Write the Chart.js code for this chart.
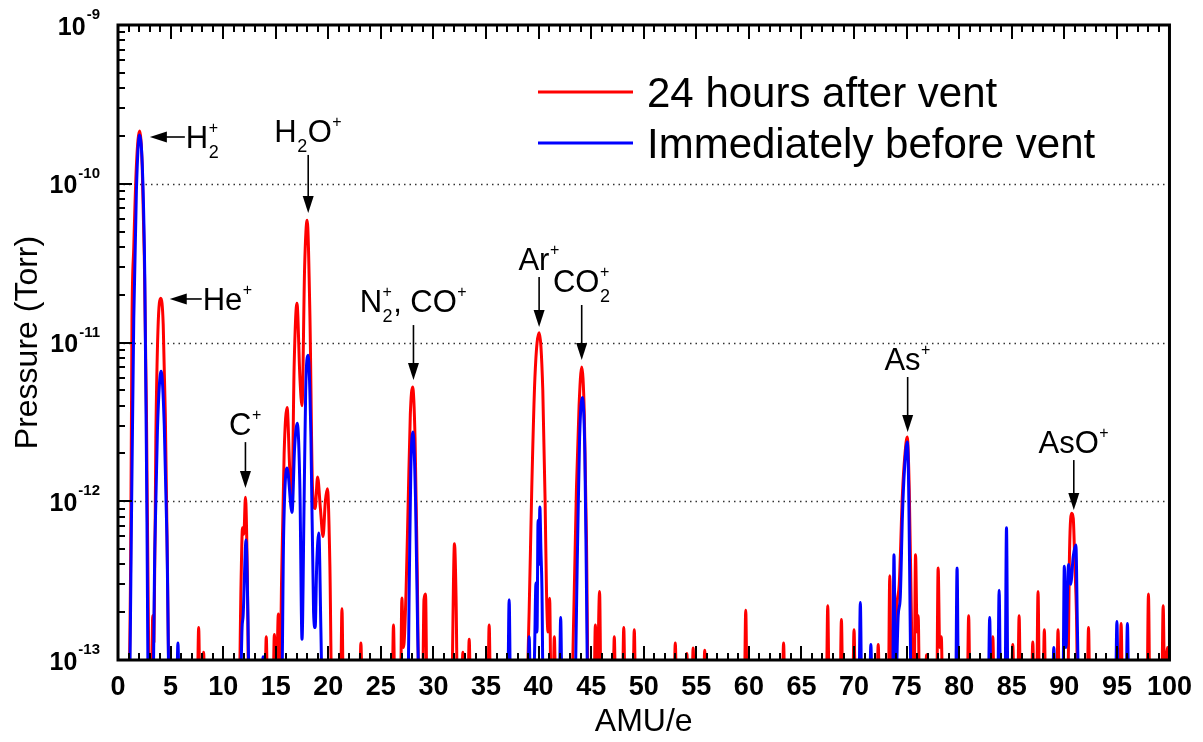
<!DOCTYPE html>
<html>
<head>
<meta charset="utf-8">
<script src="https://cdn.jsdelivr.net/npm/chart.js@4.4.1/dist/chart.umd.min.js"></script>
<style>
html,body{margin:0;padding:0;background:#fff;}
canvas{display:block;}
</style>
</head>
<body>
<canvas id="c" width="1203" height="742"></canvas>
<script>
// ---------------- DATA ----------------
const seriesNames = ['24 hours after vent', 'Immediately before vent'];
const xTitle = 'AMU/e';
const yTitle = 'Pressure (Torr)';
const xRange = [0, 100];
const xTickStep = 5;
const yTickExponents = [-9, -10, -11, -12, -13];

// [AMU/e, pressure in Torr]; 5e-14 = below the bottom of the axis
const redScan = [
[0,5e-14],[0.95,5e-14],[1.2,4e-13],[1.33,1.35e-11],[1.5,4e-11],[1.75,1.3e-10],[2.05,2.15e-10],[2.3,1.3e-10],[2.5,3.5e-11],[2.7,4e-12],[2.9,1.5e-13],[3.02,5e-14],
[3.18,5e-14],[3.3,1.9e-13],[3.42,1.3e-13],[3.6,2.5e-12],[3.8,1.2e-11],[4.07,1.9e-11],[4.3,1.3e-11],[4.5,3.5e-12],[4.7,4e-13],[4.9,5e-14],
[7.52,5e-14],[7.67,1.6e-13],[7.82,5e-14],[7.99,5e-14],[8.14,1.12e-13],[8.29,5e-14],
[11.5,5e-14],[11.7,3e-13],[11.84,6.8e-13],[11.97,6.2e-13],[12.12,1.06e-12],[12.3,3.5e-13],[12.45,5e-14],
[13.95,5e-14],[14.1,1.4e-13],[14.25,5e-14],[14.72,5e-14],[14.87,1.45e-13],[15.05,6e-14],[15.25,1.95e-13],[15.4,6e-14],
[15.55,3e-13],[15.8,2e-12],[16.08,3.9e-12],[16.35,1.5e-12],[16.55,1.1e-12],[16.75,7e-12],[17.02,1.77e-11],[17.3,6e-12],[17.5,4e-12],[17.75,3e-11],[17.99,5.9e-11],[18.25,1.5e-11],[18.5,1.2e-12],[18.75,9e-13],[18.98,1.42e-12],[19.25,9e-13],[19.5,6e-13],[19.72,1e-12],[19.92,1.2e-12],[20.15,4e-13],[20.35,5e-14],
[21.15,5e-14],[21.3,2.1e-13],[21.45,5e-14],
[22.95,5e-14],[23.1,1.28e-13],[23.25,5e-14],
[26.05,5e-14],[26.2,1.66e-13],[26.35,5e-14],
[26.85,5e-14],[27.0,2.46e-13],[27.15,1.2e-13],[27.4,2.75e-13],[27.6,1e-12],[27.8,3.5e-12],[28.02,5.25e-12],[28.25,2.5e-12],[28.45,4e-13],[28.65,5e-14],
[28.95,5e-14],[29.1,2.4e-13],[29.25,2.6e-13],[29.4,5e-14],
[31.7,5e-14],[32.0,5.4e-13],[32.15,2.5e-13],[32.3,5e-14],
[32.65,5e-14],[32.8,1.12e-13],[32.95,5e-14],
[33.25,5e-14],[33.4,1.35e-13],[33.55,5e-14],
[35.15,5e-14],[35.3,1.66e-13],[35.45,5e-14],
[38.8,5e-14],[39.1,2e-13],[39.35,1.2e-12],[39.65,6e-12],[40.05,1.15e-11],[40.4,5e-12],[40.62,1e-12],[40.75,2.75e-13],[40.9,1.5e-13],[41.05,2.45e-13],[41.2,5e-14],
[41.35,5e-14],[41.5,1.4e-13],[41.65,5e-14],
[43.1,5e-14],[43.35,2e-13],[43.6,1.2e-12],[43.85,4e-12],[44.1,7e-12],[44.35,3.5e-12],[44.55,6e-13],[44.75,5e-14],
[45.25,5e-14],[45.4,1.66e-13],[45.55,6e-14],[45.8,2.7e-13],[45.95,5e-14],
[47.05,5e-14],[47.2,1.4e-13],[47.35,5e-14],
[47.95,5e-14],[48.1,1.6e-13],[48.25,5e-14],
[48.95,5e-14],[49.1,1.55e-13],[49.25,5e-14],
[52.85,5e-14],[53.0,1.28e-13],[53.15,5e-14],
[53.95,5e-14],[54.1,1.1e-13],[54.25,5e-14],
[54.55,5e-14],[54.7,1.19e-13],[54.85,5e-14],
[55.65,5e-14],[55.8,1.15e-13],[55.95,5e-14],
[59.55,5e-14],[59.7,2.06e-13],[59.85,5e-14],
[63.15,5e-14],[63.3,1.28e-13],[63.45,5e-14],
[67.35,5e-14],[67.5,2.2e-13],[67.65,5e-14],
[68.65,5e-14],[68.8,1.8e-13],[68.95,5e-14],
[69.85,5e-14],[70.0,1.55e-13],[70.15,5e-14],
[72.15,5e-14],[72.3,1.25e-13],[72.45,5e-14],
[73.25,5e-14],[73.4,3.4e-13],[73.55,5e-14],
[73.85,5e-14],[74.05,2e-13],[74.3,3e-13],[74.6,1.1e-12],[74.85,2e-12],[75.06,2.54e-12],[75.25,1.2e-12],[75.45,2e-13],[75.6,5e-14],
[75.7,5e-14],[75.85,4.6e-13],[76.0,1.5e-13],[76.1,1.9e-13],[76.25,5e-14],
[76.75,5e-14],[76.9,1.08e-13],[77.05,5e-14],
[77.85,5e-14],[78.0,3.8e-13],[78.15,1.2e-13],[78.3,1.4e-13],[78.45,5e-14],
[80.75,5e-14],[80.9,1.9e-13],[81.05,5e-14],
[83.05,5e-14],[83.2,1.4e-13],[83.35,5e-14],
[84.95,5e-14],[85.1,1.25e-13],[85.25,5e-14],
[85.55,5e-14],[85.7,1.9e-13],[85.85,5e-14],
[86.85,5e-14],[87.0,1.3e-13],[87.15,5e-14],
[87.35,5e-14],[87.5,2.7e-13],[87.65,5e-14],
[87.95,5e-14],[88.1,1.55e-13],[88.25,5e-14],
[89.25,5e-14],[89.4,1.55e-13],[89.55,5e-14],
[90.3,5e-14],[90.5,5e-13],[90.7,8.4e-13],[90.85,7.8e-13],[91.0,4e-13],[91.15,2e-13],[91.3,5e-14],
[92.15,5e-14],[92.3,1.6e-13],[92.45,5e-14],
[95.25,5e-14],[95.4,1.7e-13],[95.55,5e-14],
[97.85,5e-14],[98.0,2.6e-13],[98.15,5e-14],
[99.25,5e-14],[99.4,2.2e-13],[99.55,6e-14],[99.8,1.2e-13],[100,5e-14]
];

const blueScan = [
[0,5e-14],[1.05,5e-14],[1.3,1e-12],[1.5,1.4e-11],[1.75,9e-11],[2.05,2.03e-10],[2.35,1.1e-10],[2.55,2.5e-11],[2.75,8e-13],[2.9,5e-14],
[3.3,5e-14],[3.5,5e-13],[3.75,2.8e-12],[4.1,6.6e-12],[4.4,3e-12],[4.65,6e-13],[4.9,5e-14],
[5.55,5e-14],[5.7,1.28e-13],[5.85,5e-14],
[11.6,5e-14],[11.8,1.6e-13],[11.9,1.9e-13],[12.18,5.7e-13],[12.35,2e-13],[12.5,5e-14],
[13.65,5e-14],[13.8,1.05e-13],[13.95,5e-14],
[15.55,5e-14],[15.75,6e-13],[16.08,1.62e-12],[16.55,8.5e-13],[16.8,2.2e-12],[17.05,3.1e-12],[17.3,1.2e-12],[17.5,1.35e-13],[17.7,1e-12],[17.85,5e-12],[18.08,8.3e-12],[18.35,2.5e-12],[18.6,2e-13],[18.75,1.6e-13],[18.9,4e-13],[19.1,6.3e-13],[19.3,1.5e-13],[19.45,5e-14],
[27.55,5e-14],[27.7,3e-13],[27.85,1.6e-12],[28.05,2.73e-12],[28.3,1e-12],[28.5,1.5e-13],[28.7,5e-14],
[37.05,5e-14],[37.2,2.4e-13],[37.35,5e-14],
[38.95,5e-14],[39.1,1.4e-13],[39.25,6e-14],[39.6,1e-13],[39.75,3.05e-13],[39.85,1.5e-13],[39.95,7.6e-13],[40.03,4e-13],[40.12,9.2e-13],[40.22,5e-13],[40.32,2.8e-13],[40.45,5e-14],
[41.95,5e-14],[42.1,1.85e-13],[42.25,5e-14],
[43.4,5e-14],[43.7,5e-13],[43.9,2.5e-12],[44.15,4.5e-12],[44.4,2e-12],[44.55,3e-13],[44.7,5e-14],
[70.45,5e-14],[70.6,2.3e-13],[70.75,5e-14],
[71.45,5e-14],[71.6,1.25e-13],[71.75,5e-14],
[73.65,5e-14],[73.8,4.6e-13],[73.95,6e-14],[74.2,1.9e-13],[74.4,2.5e-13],[74.6,8e-13],[74.8,1.6e-12],[75.06,2.36e-12],[75.2,1.2e-12],[75.35,1.5e-13],[75.45,5e-14],
[79.65,5e-14],[79.8,3.8e-13],[79.95,5e-14],
[82.75,5e-14],[82.9,1.85e-13],[83.05,5e-14],
[83.65,5e-14],[83.8,2.75e-13],[83.95,5e-14],
[84.35,5e-14],[84.5,6.8e-13],[84.65,5e-14],
[88.85,5e-14],[89.0,1.2e-13],[89.15,5e-14],
[89.85,5e-14],[90.0,3.9e-13],[90.15,1.2e-13],[90.4,4e-13],[90.6,3e-13],[90.85,4.5e-13],[91.1,5.3e-13],[91.25,1.5e-13],[91.4,5e-14],
[94.85,5e-14],[95.0,1.75e-13],[95.15,5e-14],
[95.85,5e-14],[96.0,1.7e-13],[96.15,5e-14],
[100,5e-14]
];

// peak labels: text (_ = subscript, ^ = superscript), AMU/e and pressure of the arrow tip
const annotationLabels = ['H_2^+', 'He^+', 'C^+', 'H_2O^+', 'N_2^+, CO^+', 'Ar^+', 'CO_2^+', 'As^+', 'AsO^+'];
const annotationAmu    = [3.03, 4.92, 12.12, 18.09, 28.1, 40.05, 44.1, 75.1, 90.9];
const annotationTip    = [1.97e-10, 1.88e-11, 1.21e-12, 6.55e-11, 5.8e-12, 1.25e-11, 7.76e-12, 2.73e-12, 8.8e-13];

// ---------------- STYLE ----------------
const FONT = '"Liberation Sans", Arial, Helvetica, sans-serif';
const seriesColors = ['#ff0000', '#0000ff'];
const arrowStyle = [
  {dir:'left', len:35}, {dir:'left', len:32}, {dir:'down', len:46}, {dir:'down', len:58},
  {dir:'down', len:55}, {dir:'down', len:50}, {dir:'down', len:55}, {dir:'down', len:55}, {dir:'down', len:50}
];

function parseRich(s) {
  const parts = [];
  let i = 0, buf = '';
  const flush = () => { if (buf) { parts.push({t: buf}); buf = ''; } };
  while (i < s.length) {
    const c = s[i];
    if (c === '_') {
      flush();
      const p = {sub: s[i + 1]};
      i += 2;
      if (s[i] === '^') { p.sup = s[i + 1]; i += 2; }
      parts.push(p);
    } else if (c === '^') {
      flush();
      parts.push({sup: s[i + 1]});
      i += 2;
    } else { buf += c; i++; }
  }
  flush();
  return parts;
}

const MAIN_F = '31px ' + FONT, SUB_F = '18px ' + FONT, SUP_F = '16px ' + FONT;
function richWidth(ctx, parts) {
  let w = 0;
  for (const p of parts) {
    if (p.t !== undefined) { ctx.font = MAIN_F; w += ctx.measureText(p.t).width; }
    else {
      let a = 0, b = 0;
      if (p.sub) { ctx.font = SUB_F; a = ctx.measureText(p.sub).width; }
      if (p.sup) { ctx.font = SUP_F; b = ctx.measureText(p.sup).width; }
      w += Math.max(a, b) + 1;
    }
  }
  return w;
}
function drawRich(ctx, parts, x, base) {
  ctx.textAlign = 'left';
  ctx.textBaseline = 'alphabetic';
  let cx = x;
  for (const p of parts) {
    if (p.t !== undefined) {
      ctx.font = MAIN_F; ctx.fillText(p.t, cx, base); cx += ctx.measureText(p.t).width;
    } else {
      let a = 0, b = 0;
      if (p.sub) { ctx.font = SUB_F; ctx.fillText(p.sub, cx + 0.5, base + 10); a = ctx.measureText(p.sub).width; }
      if (p.sup) { ctx.font = SUP_F; ctx.fillText(p.sup, cx + 0.5, base - 15); b = ctx.measureText(p.sup).width; }
      cx += Math.max(a, b) + 1;
    }
  }
}

const gridPlugin = {
  id: 'grid',
  beforeDatasetsDraw(chart) {
    const {ctx, chartArea: {left, right}, scales: {y}} = chart;
    ctx.save();
    ctx.setLineDash([1.5, 4]);
    ctx.lineWidth = 1.3;
    ctx.strokeStyle = '#333';
    for (const e of yTickExponents.slice(1, -1)) {
      const py = Math.round(y.getPixelForValue(Math.pow(10, e))) + 0.5;
      ctx.beginPath(); ctx.moveTo(left, py); ctx.lineTo(right, py); ctx.stroke();
    }
    ctx.restore();
  }
};

const framePlugin = {
  id: 'frame',
  afterDatasetsDraw(chart) {
    const {ctx, chartArea: {left, right, top, bottom}, scales: {x, y}} = chart;
    ctx.save();
    ctx.strokeStyle = '#000';
    ctx.lineWidth = 2;
    ctx.beginPath();
    for (let v = xRange[0]; v <= xRange[1]; v++) {
      const px = Math.round(x.getPixelForValue(v));
      const L = (v % xTickStep === 0) ? 14 : 7;
      ctx.moveTo(px, bottom); ctx.lineTo(px, bottom - L);
      ctx.moveTo(px, top); ctx.lineTo(px, top + L);
    }
    const eMin = Math.min(...yTickExponents), eMax = Math.max(...yTickExponents);
    for (let e = eMin; e <= eMax; e++) {
      const py = Math.round(y.getPixelForValue(Math.pow(10, e)));
      ctx.moveTo(left, py); ctx.lineTo(left + 14, py);
      if (e < eMax) {
        for (let m = 2; m <= 9; m++) {
          const q = Math.round(y.getPixelForValue(m * Math.pow(10, e)));
          ctx.moveTo(left, q); ctx.lineTo(left + 7, q);
        }
      }
    }
    ctx.stroke();
    ctx.lineWidth = 3;
    ctx.strokeRect(left, top, right - left, bottom - top);
    ctx.restore();
  },
  afterDraw(chart) {
    const {ctx, scales: {x, y}} = chart;
    ctx.save();
    ctx.fillStyle = '#000';
    // y tick labels 10^n
    ctx.textBaseline = 'alphabetic';
    ctx.textAlign = 'right';
    for (const e of yTickExponents) {
      const py = y.getPixelForValue(Math.pow(10, e));
      const exp = String(e);
      ctx.font = 'bold 15px ' + FONT;
      const ew = ctx.measureText(exp).width;
      ctx.fillText(exp, 100, py - 6);
      ctx.font = 'bold 25px ' + FONT;
      ctx.fillText('10', 100 - ew - 1, py + 9.5);
    }
    // legend
    const legY = [92, 143];
    for (let i = 0; i < 2; i++) {
      ctx.strokeStyle = seriesColors[i];
      ctx.lineWidth = 3;
      ctx.beginPath(); ctx.moveTo(538, legY[i]); ctx.lineTo(633, legY[i]); ctx.stroke();
      ctx.font = '42px ' + FONT;
      ctx.textAlign = 'left';
      ctx.fillText(seriesNames[i], 647, legY[i] + 15);
    }
    // peak annotations
    ctx.strokeStyle = '#000';
    ctx.lineWidth = 1.6;
    for (let i = 0; i < annotationLabels.length; i++) {
      const tx = x.getPixelForValue(annotationAmu[i]);
      const ty = y.getPixelForValue(annotationTip[i]);
      const st = arrowStyle[i];
      const parts = parseRich(annotationLabels[i]);
      if (st.dir === 'left') {
        ctx.beginPath(); ctx.moveTo(tx + 10, ty); ctx.lineTo(tx + st.len, ty); ctx.stroke();
        ctx.beginPath(); ctx.moveTo(tx, ty); ctx.lineTo(tx + 17, ty - 5.5); ctx.lineTo(tx + 17, ty + 5.5); ctx.closePath(); ctx.fill();
        drawRich(ctx, parts, tx + st.len + 1, ty + 11);
      } else {
        const topY = ty - st.len;
        ctx.beginPath(); ctx.moveTo(tx, topY); ctx.lineTo(tx, ty - 10); ctx.stroke();
        ctx.beginPath(); ctx.moveTo(tx, ty); ctx.lineTo(tx - 5.5, ty - 17); ctx.lineTo(tx + 5.5, ty - 17); ctx.closePath(); ctx.fill();
        const hasSub = parts.some(p => p.sub);
        const w = richWidth(ctx, parts);
        drawRich(ctx, parts, tx - w / 2, topY - (hasSub ? 13 : 7));
      }
    }
    ctx.restore();
  }
};

new Chart(document.getElementById('c').getContext('2d'), {
  type: 'line',
  data: {
    datasets: [
      {label: seriesNames[0], data: redScan.map(([a, p]) => ({x: a, y: p})), borderColor: seriesColors[0], backgroundColor: seriesColors[0], order: 1},
      {label: seriesNames[1], data: blueScan.map(([a, p]) => ({x: a, y: p})), borderColor: seriesColors[1], backgroundColor: seriesColors[1], order: 0}
    ]
  },
  options: {
    responsive: false,
    animation: false,
    devicePixelRatio: 1,
    layout: {padding: {top: 25, right: 29, left: 0, bottom: 0}},
    plugins: {legend: {display: false}, tooltip: {enabled: false}},
    elements: {
      point: {radius: 0},
      line: {borderWidth: 3, tension: 0.4, cubicInterpolationMode: 'monotone', borderJoinStyle: 'round', borderCapStyle: 'round', fill: false}
    },
    scales: {
      x: {
        type: 'linear', min: xRange[0], max: xRange[1],
        afterFit: s => { s.height = 82; },
        grid: {display: false, drawTicks: false},
        border: {display: false},
        ticks: {stepSize: xTickStep, autoSkip: false, maxRotation: 0, padding: 11, color: '#000',
                font: {family: FONT, size: 27, weight: 'bold'}},
        title: {display: true, text: xTitle, color: '#000', font: {family: FONT, size: 32}, padding: {top: 0, bottom: 1}}
      },
      y: {
        type: 'logarithmic', min: 1e-13, max: 1e-9,
        afterFit: s => { s.width = 118; },
        grid: {display: false, drawTicks: false},
        border: {display: false},
        ticks: {display: false},
        title: {display: true, text: yTitle, color: '#000', font: {family: FONT, size: 32}, padding: {top: 9, bottom: 0}}
      }
    }
  },
  plugins: [gridPlugin, framePlugin]
});
</script>
</body>
</html>
